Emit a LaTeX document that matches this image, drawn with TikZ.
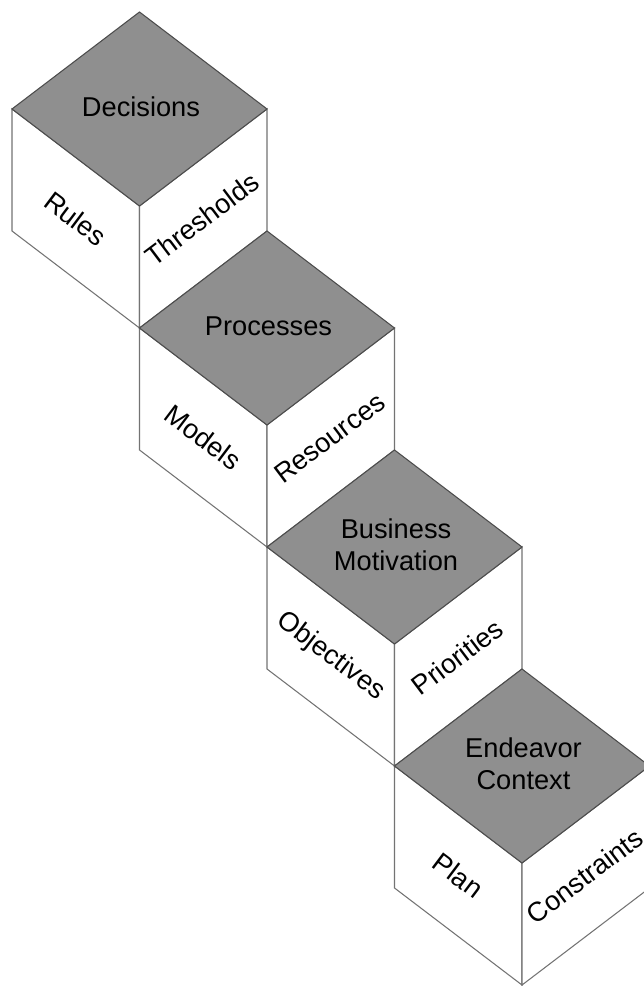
\documentclass[tikz,border=0pt]{standalone}
\usepackage{fontspec}
\setmainfont{Liberation Sans}
\usepackage{tikz}

\begin{document}
\begin{tikzpicture}[x=0.02cm, y=-0.02cm, line width=.6pt,
    face/.style={fill=white, draw=black!55},
    lid/.style={fill=black!44, draw=black!70},
    lbl/.style={font=\fontsize{15.5}{18.5}\selectfont, align=center, inner sep=0pt}]
  \useasboundingbox (0,0) rectangle (644,986);
  \clip (0,0) rectangle (644,986);
  \foreach \i/\lidtext/\lfttext/\rgttext in {0/Decisions/Rules/Thresholds,
      1/Processes/Models/Resources,
      2/{Business\\Motivation}/Objectives/Priorities,
      3/{Endeavor\\Context}/Plan/Constraints}
  {
    \begin{scope}[shift={(12+127.5*\i, 109+219*\i)}]
      % sides
      \draw[face] (0,0) -- (127.5,97) -- (127.5,219) -- (0,122) -- cycle;
      \draw[face] (127.5,97) -- (255,0) -- (255,122) -- (127.5,219) -- cycle;
      % lid
      \draw[lid] (0,0) -- (127.5,-97) -- (255,0) -- (127.5,97) -- cycle;
      \node[lbl] (lid\i) at (129,-2) {\lidtext};
      \node[lbl, rotate=-37] (left\i) at (63.75,109.5) {\lfttext};
      \node[lbl, rotate=37] (right\i) at (190,110) {\rgttext};
    \end{scope}
  }
\end{tikzpicture}
\end{document}
